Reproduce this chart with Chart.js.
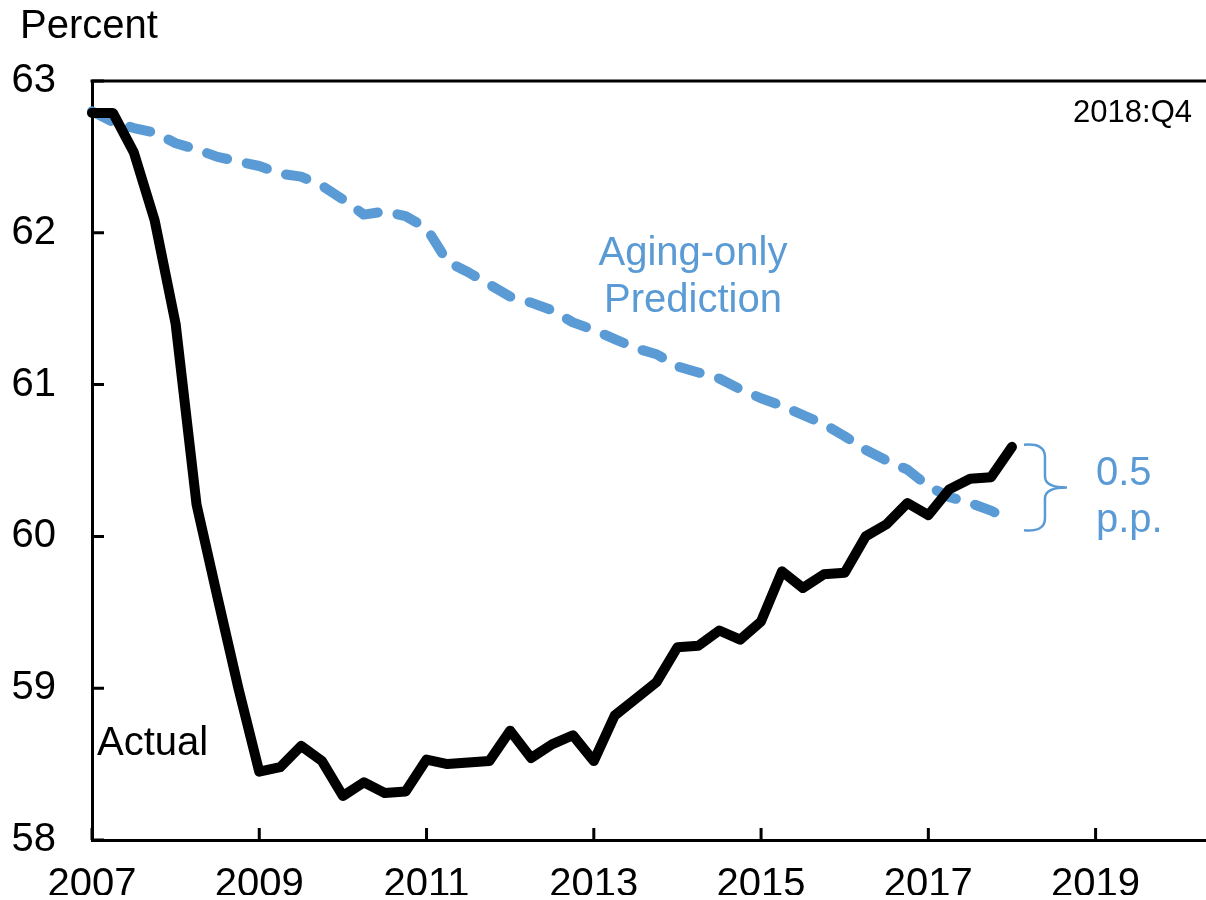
<!DOCTYPE html>
<html>
<head>
<meta charset="utf-8">
<script src="https://cdn.jsdelivr.net/npm/chart.js@4/dist/chart.umd.min.js"></script>
<style>
  html, body { margin: 0; padding: 0; background: #fff; }
  #chart { display: block; }
</style>
</head>
<body>
<canvas id="chart" width="1206" height="900"></canvas>
<script>
const quarters = [
    '2007:Q1', '2007:Q2', '2007:Q3', '2007:Q4', '2008:Q1', '2008:Q2', '2008:Q3', '2008:Q4',
    '2009:Q1', '2009:Q2', '2009:Q3', '2009:Q4', '2010:Q1', '2010:Q2', '2010:Q3', '2010:Q4',
    '2011:Q1', '2011:Q2', '2011:Q3', '2011:Q4', '2012:Q1', '2012:Q2', '2012:Q3', '2012:Q4',
    '2013:Q1', '2013:Q2', '2013:Q3', '2013:Q4', '2014:Q1', '2014:Q2', '2014:Q3', '2014:Q4',
    '2015:Q1', '2015:Q2', '2015:Q3', '2015:Q4', '2016:Q1', '2016:Q2', '2016:Q3', '2016:Q4',
    '2017:Q1', '2017:Q2', '2017:Q3', '2017:Q4', '2018:Q1'
]

const actual = [
    62.79, 62.79, 62.53, 62.08, 61.40, 60.21, 59.60, 59.00,
    58.45, 58.48, 58.62, 58.52, 58.29, 58.38, 58.31, 58.32,
    58.53, 58.50, 58.51, 58.52, 58.72, 58.54, 58.63, 58.69,
    58.52, 58.82, 58.93, 59.04, 59.27, 59.28, 59.38, 59.32,
    59.44, 59.77, 59.66, 59.75, 59.76, 60.00, 60.08, 60.22,
    60.14, 60.31, 60.38, 60.39, 60.59
]

const agingOnly = [
    62.80, 62.73, 62.69, 62.66, 62.59, 62.55, 62.50, 62.47,
    62.44, 62.39, 62.37, 62.31, 62.22, 62.12, 62.14, 62.11,
    62.03, 61.81, 61.74, 61.66, 61.58, 61.54, 61.49, 61.41,
    61.36, 61.30, 61.24, 61.20, 61.12, 61.08, 61.04, 60.97,
    60.91, 60.86, 60.80, 60.74, 60.66, 60.57, 60.50, 60.44,
    60.33, 60.26, 60.22, 60.17, 60.10
]

const xTicks = [2007, 2009, 2011, 2013, 2015, 2017, 2019]
const yTicks = [58, 59, 60, 61, 62, 63]

const BLUE = '#5B9BD5'
const FONT = '"Liberation Sans", Arial, sans-serif'

// '2009:Q3' -> 2009.5
function quarterToX(q) {
    const [year, qq] = q.split(':Q')
    return Number(year) + (Number(qq) - 1) / 4
}

const annotations = {
    id: 'annotations',
    afterDraw(chart) {
        const ctx = chart.ctx
        const area = chart.chartArea
        const xs = chart.scales.x
        const ys = chart.scales.y

        ctx.save()
        ctx.strokeStyle = '#000'
        ctx.lineWidth = 3
        ctx.lineCap = 'butt'

        // top frame line
        ctx.beginPath()
        ctx.moveTo(area.left - 1.5, area.top)
        ctx.lineTo(area.right, area.top)
        ctx.stroke()

        // inward tick marks
        ctx.beginPath()
        yTicks.forEach(v => {
            const y = ys.getPixelForValue(v)
            ctx.moveTo(area.left, y)
            ctx.lineTo(area.left + 12, y)
        })
        xTicks.forEach(v => {
            const x = xs.getPixelForValue(v)
            ctx.moveTo(x, area.bottom)
            ctx.lineTo(x, area.bottom - 12)
        })
        ctx.stroke()

        // texts
        ctx.textBaseline = 'alphabetic'
        ctx.fillStyle = '#000'
        ctx.font = `40px ${FONT}`
        ctx.textAlign = 'left'
        ctx.fillText('Percent', 20, 38)
        ctx.fillText('Actual', 97, 755)

        ctx.font = `31px ${FONT}`
        ctx.textAlign = 'right'
        ctx.fillText('2018:Q4', 1192, 122)

        ctx.fillStyle = BLUE
        ctx.font = `40px ${FONT}`
        ctx.textAlign = 'center'
        ctx.fillText('Aging-only', 693, 265)
        ctx.fillText('Prediction', 693, 312)

        ctx.textAlign = 'left'
        ctx.fillText('0.5', 1096, 485)
        ctx.fillText('p.p.', 1096, 532)

        // brace between the two last values
        const last = quarters.length - 1
        const x0 = xs.getPixelForValue(quarterToX(quarters[last])) + 12
        const top = ys.getPixelForValue(actual[last]) - 2
        const bot = ys.getPixelForValue(agingOnly[last]) + 9
        const mid = (top + bot) / 2
        const xv = x0 + 21
        const xt = x0 + 43

        ctx.strokeStyle = BLUE
        ctx.lineWidth = 2.5
        ctx.lineJoin = 'round'
        ctx.beginPath()
        ctx.moveTo(x0, top)
        ctx.quadraticCurveTo(xv, top - 2, xv, top + 12)
        ctx.lineTo(xv, mid - 11)
        ctx.quadraticCurveTo(xv, mid, xt, mid)
        ctx.moveTo(xt, mid)
        ctx.quadraticCurveTo(xv, mid, xv, mid + 11)
        ctx.lineTo(xv, bot - 12)
        ctx.quadraticCurveTo(xv, bot + 2, x0, bot)
        ctx.stroke()

        ctx.restore()
    }
}

new Chart(document.getElementById('chart'), {
    type: 'line',
    data: {
        datasets: [{
            label: 'Actual',
            data: quarters.map((q, i) => ({ x: quarterToX(q), y: actual[i] })),
            borderColor: '#000',
            borderWidth: 10,
            borderJoinStyle: 'round',
            borderCapStyle: 'round',
            pointRadius: 0,
            tension: 0,
            clip: false,
            order: 0
        }, {
            label: 'Aging-only Prediction',
            data: quarters.map((q, i) => ({ x: quarterToX(q), y: agingOnly[i] })),
            borderColor: BLUE,
            borderWidth: 10,
            borderDash: [21, 20],
            borderJoinStyle: 'round',
            borderCapStyle: 'round',
            pointRadius: 0,
            tension: 0,
            clip: false,
            order: 1
        }]
    },
    options: {
        responsive: false,
        animation: false,
        events: [],
        layout: { padding: { top: 81, left: 0, right: 0, bottom: 0 } },
        plugins: {
            legend: { display: false },
            tooltip: { enabled: false }
        },
        scales: {
            x: {
                type: 'linear',
                min: 2007,
                max: 2020.32,
                afterBuildTicks: s => { s.ticks = xTicks.map(v => ({ value: v })) },
                afterFit: s => { s.height = 55 },
                grid: { display: false, drawTicks: false },
                border: { display: true, color: '#000', width: 3 },
                ticks: {
                    color: '#000',
                    font: { family: FONT, size: 40 },
                    padding: 21,
                    maxRotation: 0,
                    autoSkip: false,
                    callback: v => String(v)
                }
            },
            y: {
                min: 58,
                max: 63,
                afterBuildTicks: s => { s.ticks = yTicks.map(v => ({ value: v })) },
                afterFit: s => { s.width = 92 },
                grid: { display: false, drawTicks: false },
                border: { display: true, color: '#000', width: 3 },
                ticks: {
                    color: '#000',
                    font: { family: FONT, size: 40 },
                    padding: 36,
                    callback: v => String(v)
                }
            }
        }
    },
    plugins: [annotations]
})
</script>
</body>
</html>
